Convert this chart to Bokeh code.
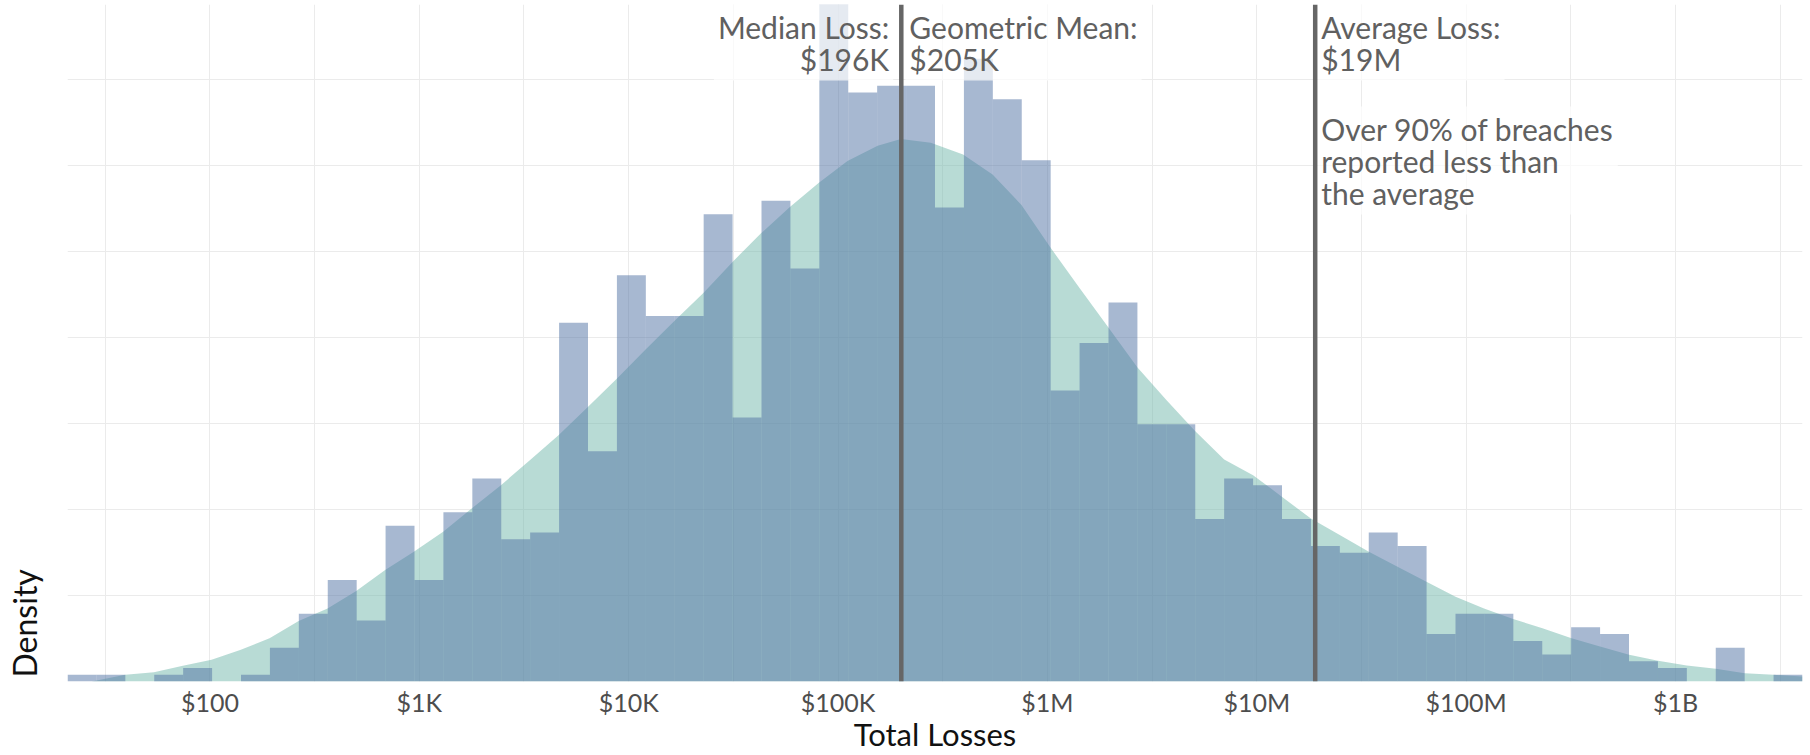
import numpy as np
from bokeh.plotting import figure
from bokeh.layouts import row
from bokeh.models import Range1d, FixedTicker, Label, Span
from bokeh.embed import file_html
from bokeh.resources import INLINE

# ---- data (x values are log10 of total losses in $) ----
bin_start_log10 = 1.320
bin_width_log10 = 0.1381
bin_counts = [1, 1, 0, 1, 2, 0, 1, 5, 10, 15,
              9, 23, 15, 25, 30, 21, 22, 53, 34, 60,
              54, 54, 69, 39, 71, 61, 100, 87, 88, 88,
              70, 92, 86, 77, 43, 50, 56, 38, 38, 24,
              30, 29, 24, 20, 19, 22, 20, 7, 10, 10,
              6, 4, 8, 7, 3, 2, 0, 5, 0, 1]

curve_log10 = [1.435, 1.596, 1.733, 1.871, 2.008, 2.148, 2.285, 2.424, 2.562, 2.699,
               2.837, 2.974, 3.114, 3.250, 3.390, 3.528, 3.665, 3.805, 3.942, 4.082,
               4.217, 4.358, 4.496, 4.631, 4.770, 4.907, 5.045, 5.189, 5.300, 5.443,
               5.597, 5.738, 5.876, 6.011, 6.155, 6.292, 6.430, 6.569, 6.705, 6.844,
               6.982, 7.121, 7.258, 7.396, 7.535, 7.672, 7.810, 7.949, 8.085, 8.224,
               8.364, 8.503, 8.639, 8.778, 8.916, 9.053, 9.192, 9.330, 9.467, 9.606]
curve_density = [0.0, 0.0039, 0.0054, 0.0091, 0.0126, 0.0184, 0.0251, 0.0352, 0.0425, 0.0526,
                 0.0648, 0.0754, 0.0870, 0.1005, 0.1141, 0.1286, 0.1431, 0.1595, 0.1759, 0.1932,
                 0.2094, 0.2260, 0.2439, 0.2604, 0.2758, 0.2898, 0.3026, 0.3115, 0.3153, 0.3132,
                 0.3063, 0.2947, 0.2770, 0.2528, 0.2285, 0.2056, 0.1826, 0.1635, 0.1456, 0.1290,
                 0.1199, 0.1073, 0.0947, 0.0851, 0.0754, 0.0667, 0.0580, 0.0493, 0.0425, 0.0364,
                 0.0309, 0.0251, 0.0203, 0.0155, 0.0120, 0.0093, 0.0074, 0.0048, 0.0039, 0.0029]

median_loss = 196000
geometric_mean = 205000
average_loss = 19000000

tick_dollars = [100, 1000, 10000, 100000, 1000000, 10000000, 100000000, 1000000000]
tick_labels = ["$100", "$1K", "$10K", "$100K", "$1M", "$10M", "$100M", "$1B"]

# ---- derived ----
n_bins = len(bin_counts)
edges = bin_start_log10 + bin_width_log10 * np.arange(n_bins + 1)
counts = np.array(bin_counts, dtype=float)
hist_density = counts / (counts.sum() * bin_width_log10)

x0, x1 = edges[0], edges[-1]
ymax = hist_density.max()

FONT = "Lato"
LEFT_W = 67

p = figure(width=1810 - LEFT_W, height=755,
           x_range=Range1d(x0, x1), y_range=Range1d(0, ymax),
           output_backend="svg", toolbar_location=None,
           min_border_left=0, min_border_right=8,
           min_border_top=4, min_border_bottom=74)
p.outline_line_color = None
p.background_fill_color = "white"
p.border_fill_color = "white"

# density curve first, histogram on top
p.varea(x=curve_log10, y1=0, y2=curve_density, fill_color="#71b7ab", fill_alpha=0.5)
p.quad(left=edges[:-1], right=edges[1:], bottom=0, top=hist_density,
       fill_color="#4f71a3", fill_alpha=0.5, line_color=None)

# axes
tick_pos = [int(round(np.log10(v))) for v in tick_dollars]
minor_pos = [t - 0.5 for t in tick_pos] + [tick_pos[-1] + 0.5]
p.xaxis.ticker = FixedTicker(ticks=tick_pos, minor_ticks=minor_pos)
p.xaxis.major_label_overrides = {t: l for t, l in zip(tick_pos, tick_labels)}
p.xaxis.axis_line_color = None
p.xaxis.major_tick_line_color = None
p.xaxis.minor_tick_line_color = None
p.xaxis.major_tick_out = 0
p.xaxis.major_tick_in = 0
p.xaxis.major_label_text_font = FONT
p.xaxis.major_label_text_font_size = "25px"
p.xaxis.major_label_text_color = "#4d4d4d"
p.xaxis.major_label_standoff = 1
p.xaxis.axis_label = "Total Losses"
p.xaxis.axis_label_text_font = FONT
p.xaxis.axis_label_text_font_size = "31px"
p.xaxis.axis_label_text_font_style = "normal"
p.xaxis.axis_label_text_color = "#111111"
p.xaxis.axis_label_standoff = -5
p.yaxis.visible = False

p.xgrid.grid_line_color = "#ebebeb"
p.xgrid.minor_grid_line_color = "#ebebeb"
p.ygrid.ticker = FixedTicker(ticks=[0.05 * k for k in range(0, 8)])
p.ygrid.grid_line_color = "#ebebeb"

# annotation labels
common = dict(text_font=FONT, text_font_size="30px", text_color="#606060",
              background_fill_color="white", background_fill_alpha=0.7,
              text_line_height=0.89, padding=4, text_baseline="top")
p.add_layout(Label(x=np.log10(median_loss), y=ymax, x_offset=-6, y_offset=0,
                   text="Median Loss:\n$196K", text_align="right", **common))
p.add_layout(Label(x=np.log10(geometric_mean), y=ymax, x_offset=2, y_offset=0,
                   text="Geometric Mean:\n$205K", text_align="left", **common))
p.add_layout(Label(x=np.log10(average_loss), y=ymax, x_offset=2, y_offset=0,
                   text="Average Loss:\n$19M", text_align="left", **common))
p.add_layout(Label(x=np.log10(average_loss), y=ymax, x_offset=2, y_offset=-102,
                   text="Over 90% of breaches\nreported less than\nthe average",
                   text_align="left", **common))

# vertical reference lines
center_stat = (np.log10(median_loss) + np.log10(geometric_mean)) / 2
for loc in [center_stat, np.log10(average_loss)]:
    p.add_layout(Span(location=loc, dimension="height", line_color="#666666",
                      line_width=4.5, level="overlay"))

# left strip holding the bottom-aligned y-axis title
left = figure(width=LEFT_W, height=755, x_range=Range1d(0, 1), y_range=Range1d(0, 1),
              output_backend="svg", toolbar_location=None,
              x_axis_location=None, y_axis_location=None, min_border=0)
left.outline_line_color = None
left.grid.visible = False
left.add_layout(Label(x=24, y=4, x_units="screen", y_units="screen", angle=np.pi / 2,
                      text="Density", text_align="left", text_baseline="alphabetic",
                      text_font=FONT, text_font_size="32px", text_color="#111111"))

layout = row(left, p, spacing=0)
open("out.html", "w").write(file_html(layout, INLINE))
